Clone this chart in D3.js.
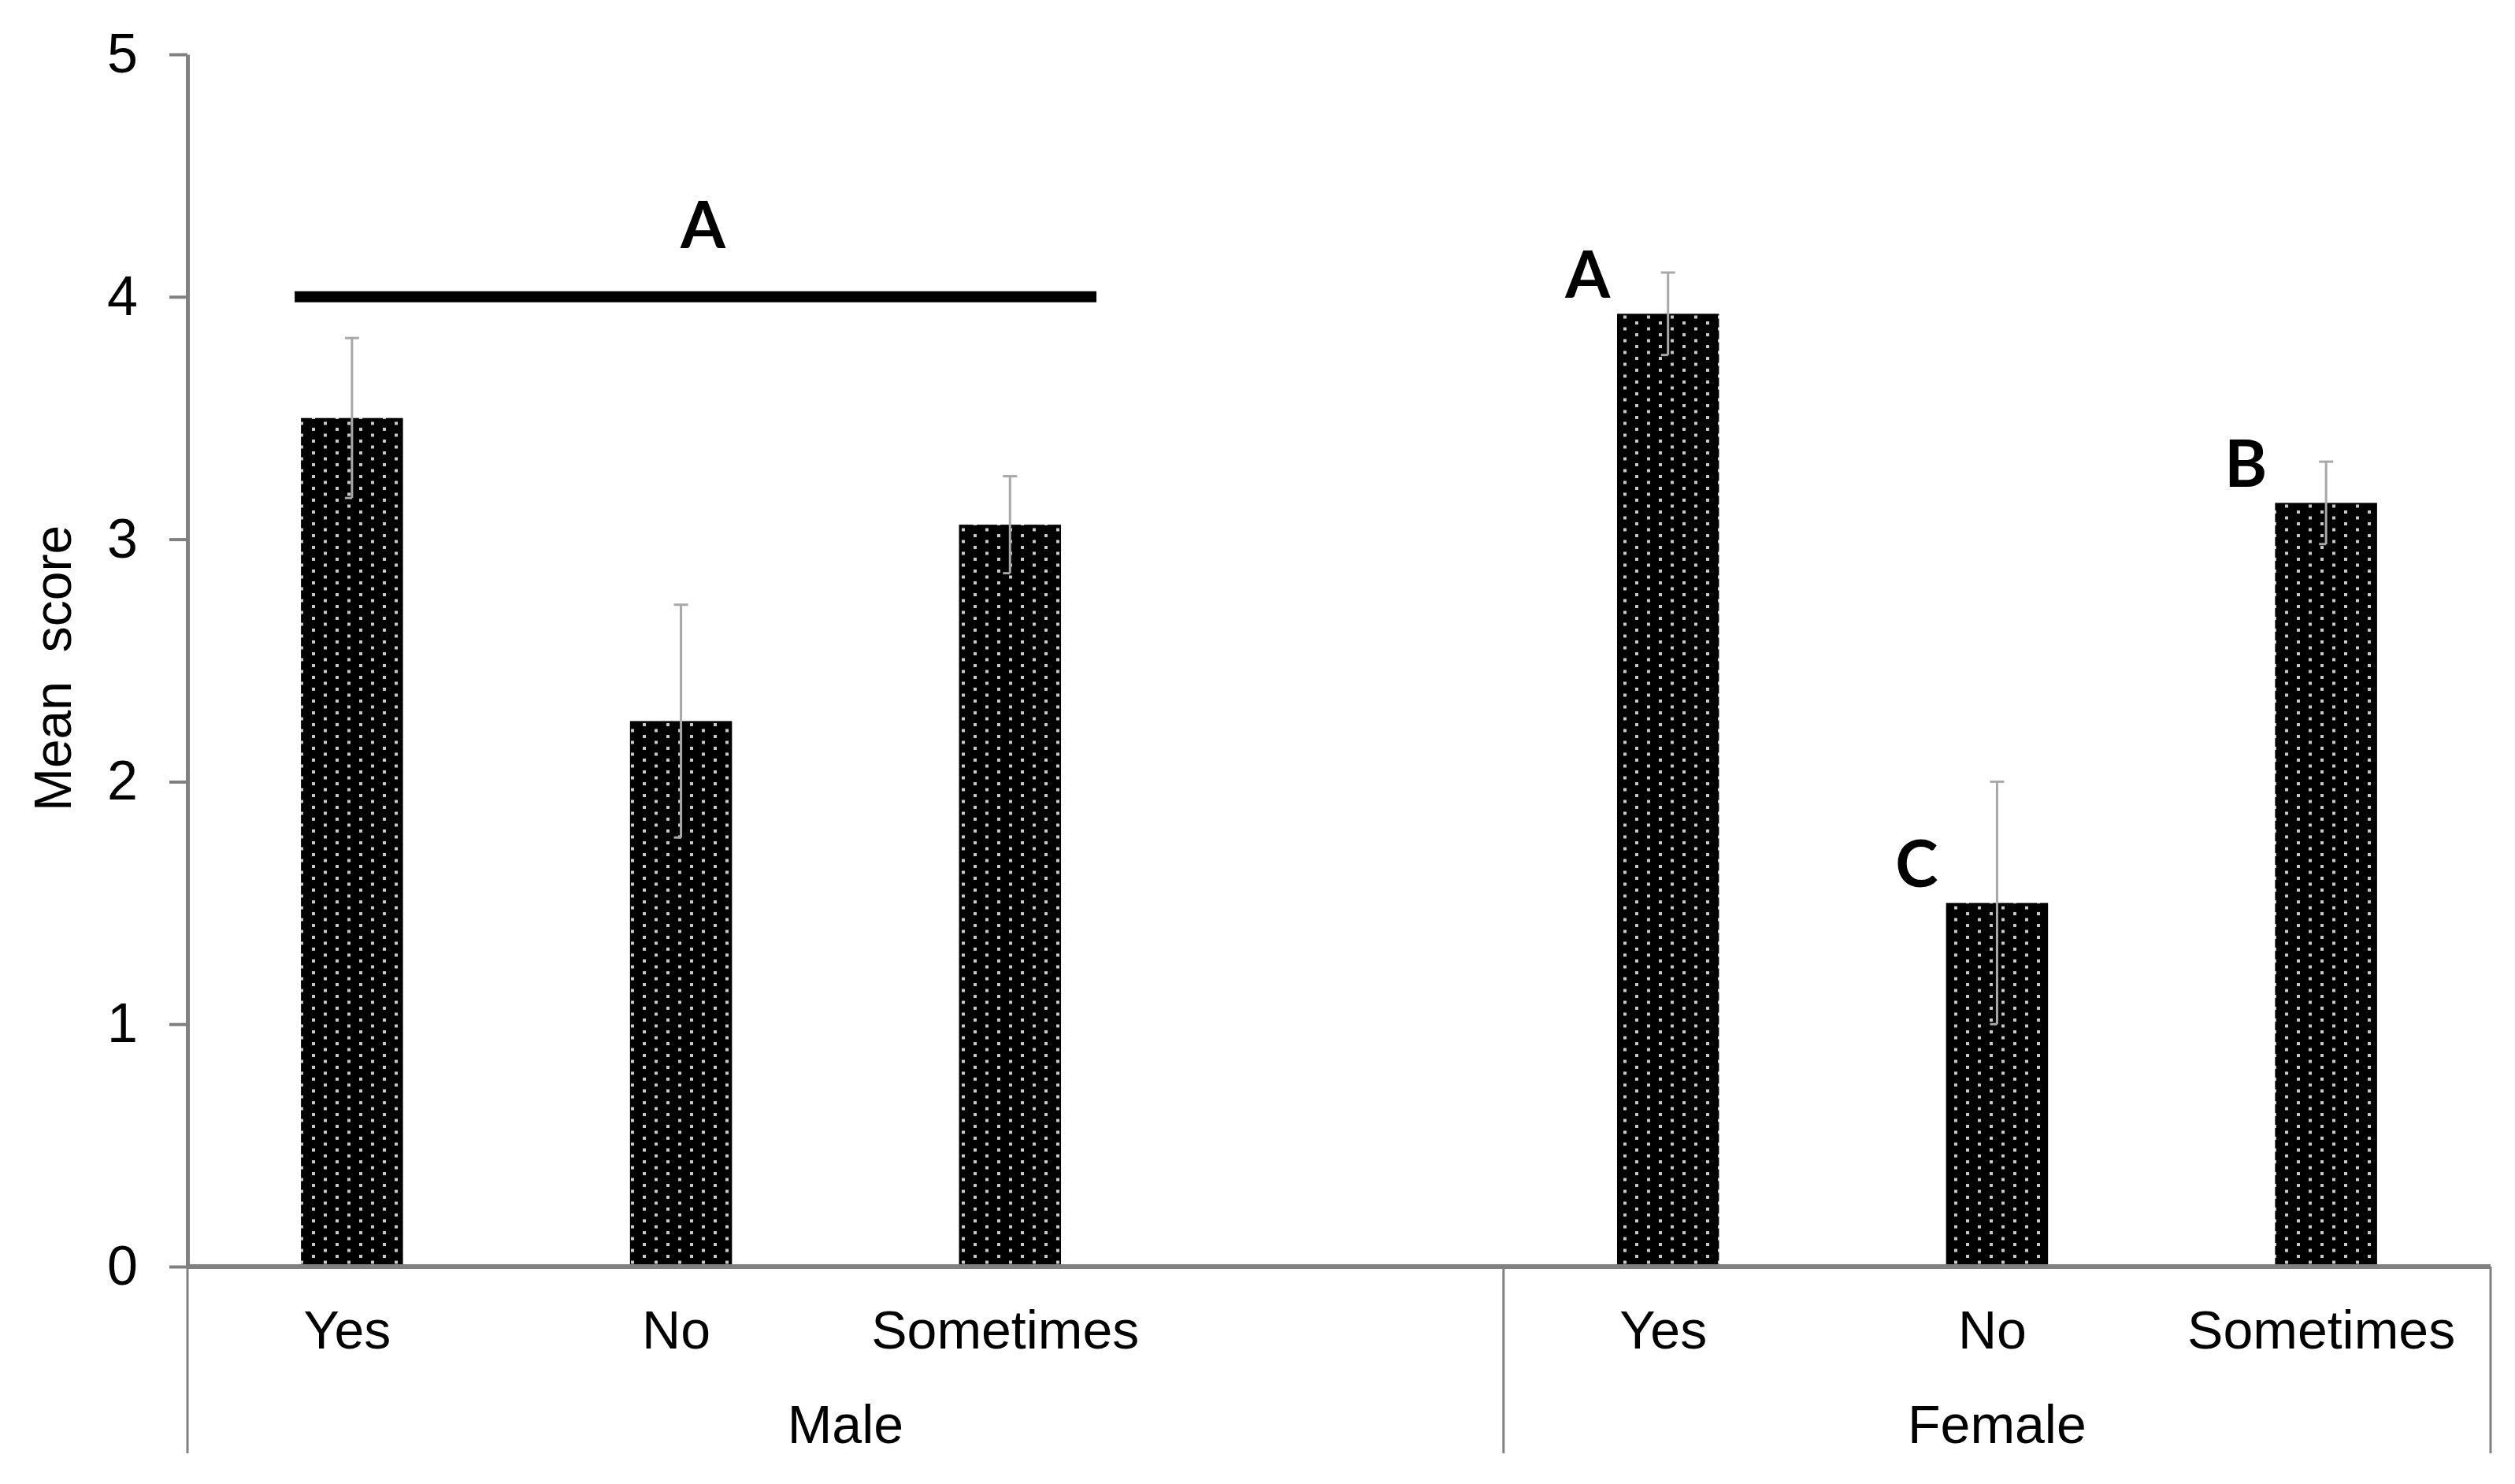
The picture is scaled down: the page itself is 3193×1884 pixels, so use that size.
<!DOCTYPE html>
<html>
<head>
<meta charset="utf-8">
<script src="https://cdn.jsdelivr.net/npm/d3@7"></script>
<style>
    body { margin: 0; background: #fff; }
    svg { display: block; }
</style>
</head>
<body>
<svg id="chart" width="3193" height="1884"></svg>
<script>
// groups and answers as they sit on the category axis (Male has a blank slot at its end)
const groups = ["Male", "Female"];
const answers = [
    ["Yes", "No", "Sometimes", ""],
    ["Yes", "No", "Sometimes"],
];
const means = [
    [3.50, 2.25, 3.06, null],
    [3.93, 1.50, 3.15],
];
const errors = [
    [0.33, 0.48, 0.20, null],
    [0.17, 0.50, 0.17],
];
// significance letters per bar
const letters = [
    [null, null, null, null],
    ["A", "C", "B"],
];
const yTicks = [0, 1, 2, 3, 4, 5];
// line over the male bars at mean 4 with letter "A"
const maleLine = { value: 4, letter: "A" };

const svg = d3.select("#chart");
const margin = { left: 238, right: 31, top: 69, bottom: 276 };
const width = 3193, height = 1884;

// flatten into slot keys
const slots = [];
groups.forEach((g, gi) => {
    answers[gi].forEach((a, ai) => {
        slots.push({ key: g + "|" + ai, group: g, gi, answer: a, mean: means[gi][ai], err: errors[gi][ai], letter: letters[gi][ai] });
    });
});

const x = d3.scaleBand()
    .domain(slots.map(d => d.key))
    .range([margin.left, width - margin.right])
    .padding(0);

const y = d3.scaleLinear()
    .domain([0, 5])
    .range([height - margin.bottom, margin.top]);

const bw = x.bandwidth();
const barW = bw * 0.31;

// dotted fill pattern
const defs = svg.append("defs");
const pat = defs.append("pattern")
    .attr("id", "dots")
    .attr("patternUnits", "userSpaceOnUse")
    .attr("width", 30)
    .attr("height", 15);
pat.append("rect").attr("width", 30).attr("height", 15).attr("fill", "#000");
pat.append("rect").attr("x", 6).attr("y", 3).attr("width", 4).attr("height", 4).attr("fill", "#c8c8c8");
pat.append("rect").attr("x", 21).attr("y", 10.5).attr("width", 4).attr("height", 4).attr("fill", "#c8c8c8");

const bars = slots.filter(d => d.mean != null);

svg.append("g").selectAll("rect")
    .data(bars)
    .join("rect")
    .attr("x", d => x(d.key) + (bw - barW) / 2)
    .attr("y", d => y(d.mean))
    .attr("width", barW)
    .attr("height", d => y(0) - y(d.mean))
    .attr("fill", "url(#dots)");

// error bars
const eb = svg.append("g").attr("stroke", "#a8a8a8").attr("stroke-width", 3);
bars.forEach(d => {
    const cx = x(d.key) + bw / 2;
    eb.append("line").attr("x1", cx).attr("x2", cx).attr("y1", y(d.mean + d.err)).attr("y2", y(d.mean - d.err));
    eb.append("line").attr("x1", cx - 9).attr("x2", cx + 9).attr("y1", y(d.mean + d.err)).attr("y2", y(d.mean + d.err));
    eb.append("line").attr("x1", cx - 9).attr("x2", cx).attr("y1", y(d.mean - d.err)).attr("y2", y(d.mean - d.err));
});

// y axis
const yAxis = svg.append("g")
    .attr("transform", `translate(${margin.left},0)`)
    .call(d3.axisLeft(y).tickValues(yTicks).tickFormat(d3.format("d")).tickSize(23).tickPadding(40).tickSizeOuter(0));
yAxis.select(".domain").attr("stroke", "#808080").attr("stroke-width", 5);
yAxis.selectAll(".tick line").attr("stroke", "#808080").attr("stroke-width", 4);
yAxis.selectAll(".tick text")
    .attr("font-family", "Liberation Sans, Arial, sans-serif")
    .attr("font-size", 70)
    .attr("fill", "#000");

// x baseline
svg.append("line")
    .attr("x1", margin.left).attr("x2", width - margin.right)
    .attr("y1", y(0)).attr("y2", y(0))
    .attr("stroke", "#808080").attr("stroke-width", 6);

// category labels
svg.append("g").selectAll("text")
    .data(slots.filter(d => d.answer))
    .join("text")
    .attr("x", d => x(d.key) + bw / 2 - 6)
    .attr("y", 1712)
    .attr("text-anchor", "middle")
    .attr("font-family", "Liberation Sans, Arial, sans-serif")
    .attr("font-size", 68)
    .text(d => d.answer);

// group separators and labels
const sepY2 = 1845;
const bounds = groups.map((g, gi) => {
    const s = slots.filter(d => d.gi === gi);
    return { g, x0: x(s[0].key), x1: x(s[s.length - 1].key) + bw };
});
const seps = [bounds[0].x0, ...bounds.map(b => b.x1)];
svg.append("g").selectAll("line")
    .data(seps)
    .join("line")
    .attr("x1", d => d).attr("x2", d => d)
    .attr("y1", y(0)).attr("y2", sepY2)
    .attr("stroke", "#808080").attr("stroke-width", 3);

svg.append("g").selectAll("text")
    .data(bounds)
    .join("text")
    .attr("x", d => (d.x0 + d.x1) / 2)
    .attr("y", 1832)
    .attr("text-anchor", "middle")
    .attr("font-family", "Liberation Sans, Arial, sans-serif")
    .attr("font-size", 68)
    .text(d => d.g);

// y label
svg.append("text")
    .attr("transform", `translate(90,${(y(0) + y(5)) / 2 + 10}) rotate(-90)`)
    .attr("text-anchor", "middle")
    .attr("font-family", "Liberation Sans, Arial, sans-serif")
    .attr("font-size", 66)
    .style("white-space", "pre")
    .text("Mean  score");

// significance letters next to the female bars
svg.append("g").selectAll("text")
    .data(bars.filter(d => d.letter))
    .join("text")
    .attr("x", d => x(d.key) + bw / 2 - 102)
    .attr("y", d => y(d.mean) - 20)
    .attr("text-anchor", "middle")
    .attr("font-family", "Lato, 'Open Sans', sans-serif")
    .attr("font-weight", 700)
    .attr("font-size", 82)
    .text(d => d.letter);

// male bracket line
const maleSlots = slots.filter(d => d.gi === 0 && d.mean != null);
const lx0 = x(maleSlots[0].key) + (bw - barW) / 2 - 8;
const lx1 = x(maleSlots[maleSlots.length - 1].key) + (bw + barW) / 2 + 45;
svg.append("line")
    .attr("x1", lx0).attr("x2", lx1)
    .attr("y1", y(maleLine.value)).attr("y2", y(maleLine.value))
    .attr("stroke", "#000").attr("stroke-width", 14);
svg.append("text")
    .attr("x", x(maleSlots[1].key) + bw / 2 + 28)
    .attr("y", y(maleLine.value) - 62)
    .attr("text-anchor", "middle")
    .attr("font-family", "Lato, 'Open Sans', sans-serif")
    .attr("font-weight", 700)
    .attr("font-size", 82)
    .text(maleLine.letter);
</script>
</body>
</html>
